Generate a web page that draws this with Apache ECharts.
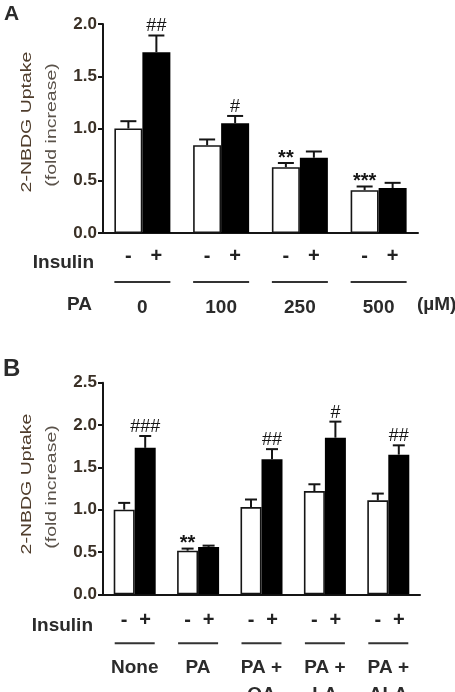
<!DOCTYPE html>
<html>
<head>
<meta charset="utf-8">
<script src="https://cdn.jsdelivr.net/npm/echarts@6/dist/echarts.min.js"></script>
<style>
  html, body { margin: 0; padding: 0; background: #fff; }
  #main { width: 455px; height: 692px; }
</style>
</head>
<body>
<div id="main"></div>
<script>
// panel A: PA dose
const catsA = ['0', '100', '250', '500'];
const whiteA = [1.0, 0.84, 0.63, 0.41];
const whiteErrA = [0.07, 0.055, 0.04, 0.035];
const blackA = [1.73, 1.05, 0.72, 0.43];
const blackErrA = [0.16, 0.07, 0.06, 0.05];
const marksWhiteA = ['', '', '**', '***'];
const marksBlackA = ['##', '#', '', ''];

// panel B: fatty acid combos
const catsB = ['None', 'PA', 'PA +\nOA', 'PA +\nLA', 'PA +\nALA'];
const whiteB = [1.0, 0.515, 1.03, 1.22, 1.11];
const whiteErrB = [0.08, 0.025, 0.09, 0.08, 0.08];
const blackB = [1.73, 0.56, 1.595, 1.85, 1.65];
const blackErrB = [0.14, 0.015, 0.12, 0.19, 0.11];
const marksWhiteB = ['', '**', '', '', ''];
const marksBlackB = ['###', '', '##', '#', '##'];

const insulinSigns = ['-', '+'];
const yMaxA = 2.0, yMaxB = 2.5, yStep = 0.5;

const FONT = "'Liberation Sans', Arial, sans-serif";
const INK = '#151515';

var myChart = echarts.init(document.getElementById('main'));

function yAxisFor(grid, max) {
    return {
        type: 'value', gridIndex: grid, min: 0, max: max, interval: yStep,
        splitLine: { show: false },
        axisLine: { show: true, lineStyle: { color: INK, width: 2 } },
        axisTick: { show: true, length: 5, lineStyle: { color: INK, width: 2 } },
        axisLabel: {
            margin: 6, fontSize: 17, fontWeight: 'bold', fontFamily: FONT, color: '#3a3026',
            formatter: v => v.toFixed(1)
        }
    };
}

function xAxisFor(grid, cats, margin) {
    return {
        type: 'category', gridIndex: grid, data: cats,
        axisLine: { show: true, lineStyle: { color: INK, width: 2 } },
        axisTick: { show: false },
        axisLabel: {
            interval: 0, margin: margin, fontSize: 19, fontWeight: 'bold', fontFamily: FONT,
            color: '#2b2b2b', verticalAlign: 'top', lineHeight: 27
        }
    };
}

function bars(grid, vals, fill, bw) {
    return {
        type: 'bar', xAxisIndex: grid, yAxisIndex: grid, data: vals,
        barWidth: bw, barGap: '0%',
        itemStyle: { color: fill, borderColor: INK, borderWidth: fill === '#fff' ? 1.6 : 0 },
        silent: true
    };
}

// error bar (upward only) + significance mark
function errBars(grid, vals, errs, marks, side, bw, cap) {
    return {
        type: 'custom', xAxisIndex: grid, yAxisIndex: grid, clip: false, z: 5,
        data: vals.map((v, i) => [i, v, errs[i]]),
        encode: { x: 0, y: 1 },
        renderItem: function (params, api) {
            let i = api.value(0), v = api.value(1), e = api.value(2);
            let base = api.coord([i, v]);
            let top = api.coord([i, v + e]);
            let x = base[0] + side * bw / 2;
            let mark = marks[params.dataIndex];
            let star = mark.indexOf('*') >= 0;
            return {
                type: 'group',
                children: [
                    { type: 'line', shape: { x1: x, y1: base[1], x2: x, y2: top[1] }, style: { stroke: INK, lineWidth: 2 } },
                    { type: 'line', shape: { x1: x - cap / 2, y1: top[1], x2: x + cap / 2, y2: top[1] }, style: { stroke: INK, lineWidth: 2 } },
                    {
                        type: 'text', x: x, y: top[1] + (star ? 5 : 0),
                        style: {
                            text: mark, fill: INK, align: 'center', verticalAlign: 'bottom',
                            font: (star ? 'bold 20px ' : '18px ') + FONT
                        }
                    }
                ]
            };
        }
    };
}

// insulin -/+ signs and the group underline below each category
function signRow(grid, cats, bw, signOff, lineHalf) {
    return {
        type: 'custom', xAxisIndex: grid, yAxisIndex: grid, clip: false, silent: true,
        data: cats.map((c, i) => [i, 0]),
        encode: { x: 0, y: 1 },
        renderItem: function (params, api) {
            let c = api.coord([api.value(0), 0]);
            return {
                type: 'group',
                children: [
                    { type: 'text', x: c[0] - bw / 2, y: c[1] + signOff, style: { text: insulinSigns[0], fill: '#222', align: 'center', verticalAlign: 'middle', font: 'bold 20px ' + FONT } },
                    { type: 'text', x: c[0] + bw / 2, y: c[1] + signOff, style: { text: insulinSigns[1], fill: '#222', align: 'center', verticalAlign: 'middle', font: 'bold 20px ' + FONT } },
                    { type: 'line', shape: { x1: c[0] - lineHalf, y1: c[1] + 49, x2: c[0] + lineHalf, y2: c[1] + 49 }, style: { stroke: '#333', lineWidth: 2 } }
                ]
            };
        }
    };
}

function label(text, x, y, size, align) {
    return {
        type: 'text', x: x, y: y,
        style: { text: text, fill: '#2b2b2b', align: align || 'left', verticalAlign: 'middle', font: 'bold ' + size + 'px ' + FONT }
    };
}

function yTitle(text, x, y, color) {
    return {
        type: 'text', x: x, y: y, rotation: Math.PI / 2, scaleX: 1.3,
        style: { text: text, fill: color, align: 'center', verticalAlign: 'middle', font: '15px ' + FONT }
    };
}

var option = {
    animation: false,
    grid: [
        { left: 103, right: 37, top: 24, height: 209, outerBoundsMode: 'none' },
        { left: 103, right: 35, top: 382.7, height: 211.6, outerBoundsMode: 'none' }
    ],
    xAxis: [xAxisFor(0, catsA, 61), xAxisFor(1, catsB, 60)],
    yAxis: [yAxisFor(0, yMaxA), yAxisFor(1, yMaxB)],
    series: [
        bars(0, whiteA, '#fff', 28), bars(0, blackA, '#000', 28),
        errBars(0, whiteA, whiteErrA, marksWhiteA, -1, 28, 16),
        errBars(0, blackA, blackErrA, marksBlackA, 1, 28, 16),
        signRow(0, catsA, 28, 23, 28),
        bars(1, whiteB, '#fff', 21), bars(1, blackB, '#000', 21),
        errBars(1, whiteB, whiteErrB, marksWhiteB, -1, 21, 12),
        errBars(1, blackB, blackErrB, marksBlackB, 1, 21, 12),
        signRow(1, catsB, 21, 26.5, 20)
    ],
    graphic: [
        label('A', 4, 14, 21),
        label('B', 3, 369, 24),
        label('Insulin', 94, 263, 19, 'right'),
        label('PA', 67, 305, 19),
        label('(\u00b5M)', 417, 305, 19),
        label('Insulin', 93, 626, 19, 'right'),
        yTitle('2-NBDG Uptake', 27, 122, '#4f3d2c'),
        yTitle('(fold increase)', 52, 125, '#5a524a'),
        yTitle('2-NBDG Uptake', 27, 484, '#4f3d2c'),
        yTitle('(fold increase)', 52, 487, '#5a524a')
    ]
};

myChart.setOption(option);
</script>
</body>
</html>
